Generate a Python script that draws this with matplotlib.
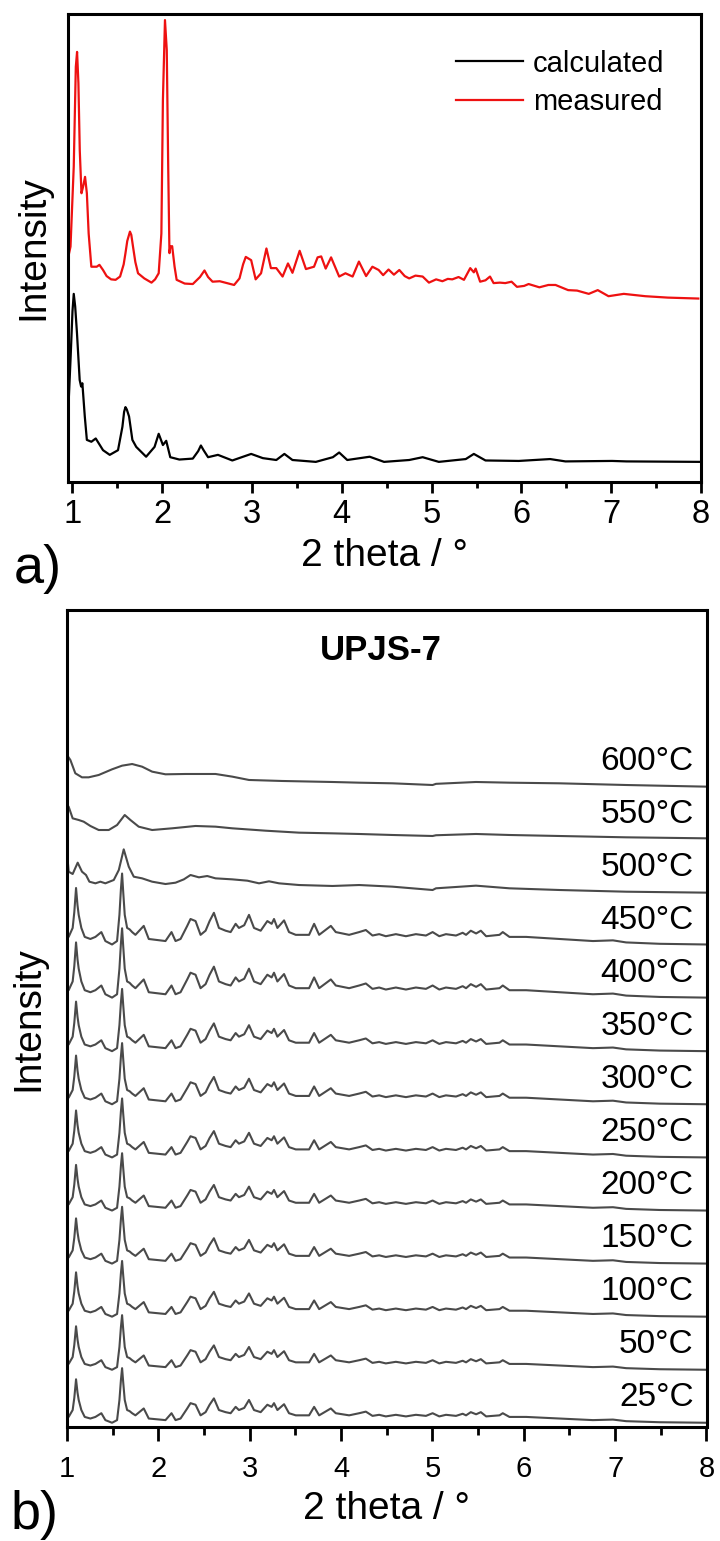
import matplotlib
matplotlib.use("Agg")
import matplotlib.pyplot as plt
from matplotlib.ticker import MultipleLocator

plt.rcParams["font.family"] = ["Liberation Sans", "DejaVu Sans"]

# ---- panel a: calculated vs measured pattern ----
CALC_X = [0.95, 0.98, 1.0, 1.014, 1.03, 1.05, 1.08, 1.096, 1.11, 1.137, 1.16, 1.21,
          1.259, 1.34, 1.415, 1.507, 1.556, 1.575, 1.59, 1.605, 1.63, 1.667, 1.71,
          1.82, 1.914, 1.96, 2.007, 2.044, 2.089, 2.19, 2.34, 2.40, 2.43, 2.46, 2.51,
          2.62, 2.78, 2.99, 3.12, 3.27, 3.36, 3.45, 3.71, 3.90, 3.97, 4.06, 4.31,
          4.47, 4.75, 4.90, 5.08, 5.38, 5.47, 5.60, 5.97, 6.32, 6.49, 7.01, 7.17, 8.0]
CALC_Y = [13.9, 27.0, 36.5, 40.2, 37.5, 31.8, 21.8, 20.4, 21.1, 14.0, 9.0, 8.6,
          9.3, 6.8, 5.8, 6.8, 11.8, 15.0, 16.0, 15.5, 14.0, 9.0, 7.5,
          5.4, 7.5, 10.3, 7.9, 8.8, 5.3, 4.8, 5.0, 6.6, 7.8, 6.8, 5.3,
          5.8, 4.6, 6.0, 5.1, 4.7, 6.0, 4.7, 4.3, 5.3, 6.3, 4.7, 5.4,
          4.3, 4.7, 5.3, 4.3, 4.9, 6.0, 4.6, 4.5, 4.9, 4.4, 4.5, 4.4, 4.3]

MEAS_X = [0.95, 0.978, 1.014, 1.037, 1.051, 1.066, 1.081, 1.10, 1.118, 1.14, 1.16, 1.18,
          1.21, 1.27, 1.30, 1.34, 1.38, 1.43, 1.48, 1.53, 1.57, 1.59, 1.61, 1.64,
          1.655, 1.674, 1.70, 1.73, 1.80, 1.88, 1.92, 1.96, 1.99, 2.007, 2.03, 2.05,
          2.066, 2.08, 2.09, 2.11, 2.137, 2.16, 2.25, 2.34, 2.42, 2.47, 2.51, 2.56,
          2.64, 2.80, 2.86, 2.90, 2.93, 2.99, 3.04, 3.10, 3.16, 3.21, 3.27, 3.34,
          3.40, 3.45, 3.53, 3.60, 3.69, 3.73, 3.77, 3.82, 3.88, 3.97, 4.04, 4.12,
          4.19, 4.27, 4.34, 4.41, 4.46, 4.52, 4.58, 4.64, 4.70, 4.75, 4.82, 4.90,
          4.97, 5.05, 5.12, 5.18, 5.23, 5.30, 5.36, 5.43, 5.47, 5.49, 5.54, 5.60,
          5.65, 5.69, 5.76, 5.82, 5.89, 5.95, 6.03, 6.08, 6.20, 6.30, 6.38, 6.52,
          6.62, 6.75, 6.85, 6.97, 7.14, 7.38, 7.63, 7.97]
MEAS_Y = [47.8, 50.3, 67.4, 88.7, 91.9, 85.2, 70.9, 61.7, 63.1, 65.2, 61.7, 53.1,
          46.0, 46.0, 46.4, 45.3, 44.0, 43.3, 43.2, 43.9, 46.5, 48.9, 51.5, 53.5,
          52.8, 50.3, 47.0, 44.6, 43.5, 42.6, 43.3, 44.6, 53.1, 81.6, 98.7, 92.3,
          67.4, 48.9, 50.3, 50.4, 46.0, 43.2, 42.4, 42.3, 43.8, 45.2, 43.8, 42.8,
          42.9, 42.1, 43.5, 46.5, 48.1, 47.4, 43.3, 44.6, 49.9, 45.7, 45.7, 43.9,
          46.7, 44.7, 49.4, 45.5, 46.0, 48.0, 48.2, 45.6, 48.0, 43.9, 44.6, 43.9,
          47.1, 44.0, 46.0, 45.3, 44.2, 45.4, 44.3, 45.3, 44.0, 43.5, 44.1, 43.9,
          42.6, 43.3, 42.9, 43.4, 43.3, 43.8, 43.2, 45.7, 44.8, 45.6, 42.8, 43.1,
          43.9, 42.5, 42.6, 42.5, 42.8, 41.7, 41.9, 42.3, 41.6, 42.1, 42.1, 41.0,
          40.9, 40.2, 41.0, 39.7, 40.2, 39.7, 39.4, 39.2]

# ---- panel b: in-situ heating, stacked patterns ----
TEMPS = ["25°C", "50°C", "100°C", "150°C", "200°C", "250°C", "300°C",
         "350°C", "400°C", "450°C", "500°C", "550°C", "600°C"]

# crystalline pattern (traced from the 25°C curve), used for 25-450°C
CRYST_X = [1.0, 1.018, 1.062, 1.08, 1.099, 1.115, 1.128, 1.157, 1.194, 1.256, 1.311,
           1.376, 1.42, 1.493, 1.548, 1.574, 1.59, 1.603, 1.615, 1.632, 1.658, 1.685,
           1.713, 1.749, 1.84, 1.895, 2.078, 2.144, 2.188, 2.243, 2.316, 2.352, 2.407,
           2.462, 2.517, 2.561, 2.608, 2.663, 2.736, 2.791, 2.846, 2.882, 2.94, 2.992,
           3.047, 3.12, 3.193, 3.24, 3.266, 3.303, 3.376, 3.43, 3.504, 3.65, 3.705,
           3.76, 3.888, 3.942, 4.088, 4.198, 4.271, 4.344, 4.417, 4.49, 4.6, 4.71,
           4.819, 4.929, 5.002, 5.075, 5.148, 5.258, 5.331, 5.368, 5.42, 5.478, 5.53,
           5.588, 5.734, 5.77, 5.843, 6.026, 6.39, 6.757, 6.976, 7.12, 7.488, 8.0]
CRYST_Y = [0.32, 0.19, 0.32, 0.55, 0.90, 0.65, 0.51, 0.32, 0.19, 0.16, 0.19,
           0.26, 0.13, 0.08, 0.13, 0.51, 0.88, 1.11, 0.85, 0.51, 0.32, 0.30,
           0.26, 0.22, 0.35, 0.16, 0.13, 0.26, 0.13, 0.16, 0.35, 0.45, 0.42,
           0.22, 0.28, 0.42, 0.54, 0.32, 0.28, 0.26, 0.38, 0.32, 0.36, 0.51,
           0.32, 0.28, 0.42, 0.38, 0.45, 0.32, 0.43, 0.26, 0.22, 0.22, 0.38,
           0.22, 0.35, 0.26, 0.22, 0.26, 0.29, 0.21, 0.23, 0.20, 0.23, 0.20,
           0.23, 0.21, 0.26, 0.20, 0.23, 0.21, 0.25, 0.22, 0.28, 0.24, 0.28,
           0.20, 0.22, 0.26, 0.19, 0.19, 0.16, 0.13, 0.14, 0.11, 0.09, 0.08]
# relative intensity of each crystalline curve (25 ... 450°C)
CRYST_SCALE = [1.0, 1.0, 1.02, 1.04, 1.05, 1.08, 1.12, 1.14, 1.27, 1.3]

T500_X = [1.0, 1.018, 1.062, 1.117, 1.164, 1.208, 1.245, 1.311, 1.365, 1.42, 1.512,
          1.567, 1.621, 1.676, 1.731, 1.822, 1.932, 2.078, 2.188, 2.279, 2.352, 2.444,
          2.535, 2.626, 2.809, 2.974, 3.102, 3.211, 3.321, 3.54, 3.906, 4.198, 4.563,
          5.002, 5.039, 5.477, 5.843, 6.391, 7.122, 8.0]
T500_Y = [0.855, 0.478, 0.434, 0.648, 0.478, 0.415, 0.289, 0.258, 0.289, 0.258, 0.321,
          0.509, 0.899, 0.572, 0.383, 0.352, 0.289, 0.245, 0.27, 0.333, 0.415, 0.371,
          0.396, 0.352, 0.333, 0.308, 0.258, 0.296, 0.258, 0.226, 0.208, 0.226, 0.195,
          0.132, 0.164, 0.214, 0.164, 0.132, 0.1, 0.082]

T550_X = [1.0, 1.018, 1.062, 1.128, 1.183, 1.256, 1.347, 1.457, 1.548, 1.632, 1.694,
          1.785, 1.932, 2.151, 2.407, 2.626, 2.809, 3.175, 3.54, 3.906, 4.198, 4.563,
          5.002, 5.039, 5.477, 5.843, 6.391, 7.122, 8.0]
T550_Y = [0.736, 0.704, 0.484, 0.453, 0.421, 0.34, 0.264, 0.264, 0.358, 0.547, 0.453,
          0.327, 0.264, 0.296, 0.34, 0.327, 0.296, 0.251, 0.214, 0.201, 0.189, 0.17,
          0.151, 0.165, 0.189, 0.17, 0.151, 0.126, 0.107]

T600_X = [1.0, 1.037, 1.091, 1.164, 1.237, 1.347, 1.493, 1.603, 1.713, 1.822, 1.932,
          2.078, 2.297, 2.626, 2.809, 2.992, 3.357, 3.906, 4.198, 4.563, 5.002, 5.039,
          5.477, 5.843, 6.391, 7.122, 8.0]
T600_Y = [0.679, 0.585, 0.334, 0.258, 0.258, 0.302, 0.409, 0.478, 0.509, 0.459, 0.365,
          0.315, 0.321, 0.321, 0.271, 0.208, 0.189, 0.17, 0.157, 0.145, 0.113, 0.135,
          0.17, 0.157, 0.145, 0.113, 0.082]

XTICKS = [1, 2, 3, 4, 5, 6, 7, 8]

W, H = 720, 1541
fig = plt.figure(figsize=(W / 100, H / 100), dpi=100)
fig.patch.set_facecolor("white")


def make_axes(rect, tick_size, major_len, minor_len, pad):
    # tick look is set through rcParams before the axes exist
    plt.rcParams.update({
        "xtick.direction": "out",
        "xtick.major.size": major_len,
        "xtick.minor.size": minor_len,
        "xtick.major.width": 2.0,
        "xtick.minor.width": 2.0,
        "xtick.major.pad": pad,
        "xtick.labelsize": tick_size,
        "axes.linewidth": 2.2,
    })
    ax = fig.add_axes(rect)
    ax.set_yticks([])
    ax.set_xticks(XTICKS)
    ax.set_xticklabels([str(t) for t in XTICKS], fontsize=tick_size)
    ax.xaxis.set_minor_locator(MultipleLocator(0.5))
    return ax


# panel a
ax_a = make_axes([68 / W, 1 - 482 / H, (701 - 68) / W, (482 - 14) / H], 23.5, 8, 4.5, 4)
ax_a.plot(CALC_X, CALC_Y, color="black", lw=1.6, label="calculated")
ax_a.plot(MEAS_X, MEAS_Y, color="#ee1111", lw=1.6, label="measured")
ax_a.set_xlim(0.95, 8)
ax_a.set_ylim(0, 100)
ax_a.set_xlabel("2 theta / °", fontsize=28)
ax_a.xaxis.set_label_coords(0.5, -0.12)
ax_a.set_ylabel("Intensity", fontsize=28)
ax_a.yaxis.set_label_coords(-0.027, 0.5)
ax_a.legend(loc="upper right", bbox_to_anchor=(0.984, 0.98), frameon=False,
            fontsize=21, handlelength=2.3, handletextpad=0.35, labelspacing=0.35)
fig.text(38 / W, 1 - 569 / H, "a)", fontsize=39, ha="center", va="center")

# panel b
ax_b = make_axes([67 / W, 1 - 1427 / H, (706.5 - 67) / W, (1427 - 610) / H], 21, 10, 5.5, 10)
line_col = "#4a4a4a"
for i, temp in enumerate(TEMPS):
    off = float(i)
    if i < len(CRYST_SCALE):
        xs = CRYST_X
        ys = [off + CRYST_SCALE[i] * v for v in CRYST_Y]
    elif temp == "500°C":
        xs, ys = T500_X, [off + v for v in T500_Y]
    elif temp == "550°C":
        xs, ys = T550_X, [off + v for v in T550_Y]
    else:
        xs, ys = T600_X, [off + v for v in T600_Y]
    ax_b.plot(xs, ys, color=line_col, lw=1.5)
    ax_b.text(7.86, off + 0.55, temp, ha="right", va="center", fontsize=24)

ax_b.set_xlim(1, 8)
ax_b.set_ylim(0, (1427 - 610) / 53)
ax_b.text(0.491, 0.95, "UPJS-7", transform=ax_b.transAxes, ha="center", va="center",
          fontsize=25, fontweight="bold")
ax_b.set_xlabel("2 theta / °", fontsize=28)
ax_b.xaxis.set_label_coords(0.5, -0.078)
ax_b.set_ylabel("Intensity", fontsize=28)
ax_b.yaxis.set_label_coords(-0.033, 0.5)
fig.text(35 / W, 1 - 1515 / H, "b)", fontsize=39, ha="center", va="center")

fig.savefig("out.png", dpi=100)
